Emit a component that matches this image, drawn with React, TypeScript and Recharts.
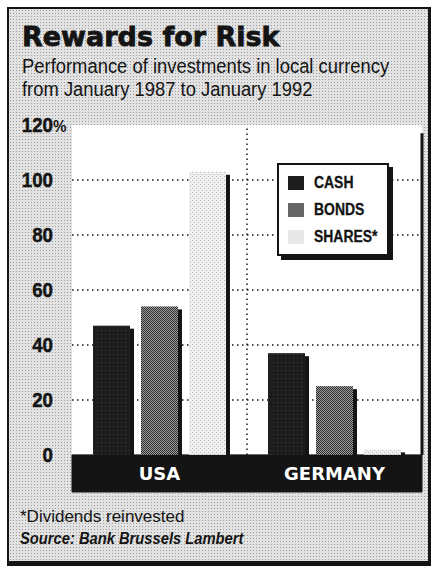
import React from 'react';
import {
  BarChart,
  Bar,
  XAxis,
  YAxis,
  CartesianGrid,
  ReferenceArea,
  ReferenceLine,
} from 'recharts';

// values in percent, Jan 1987 - Jan 1992
const countries = ['USA', 'GERMANY'];
const cashValues = [47, 37];
const bondValues = [54, 25];
const shareValues = [103, 2];
const yTicks = [0, 20, 40, 60, 80, 100, 120];
const gridValues = [20, 40, 60, 80, 100];

const legendItems = [
  { label: 'CASH', swatch: '#1c1c1c' },
  { label: 'BONDS', swatch: '#666666' },
  { label: 'SHARES*', swatch: '#e8e8e8' },
];

const data = countries.map((country, i) => ({
  country,
  cash: cashValues[i],
  bonds: bondValues[i],
  shares: shareValues[i],
}));

const sans = "'Liberation Sans', Arial, Helvetica, sans-serif";
const heavy = "'DejaVu Sans', 'Liberation Sans', Arial, sans-serif";
const ink = '#141414';
const baseBottom = -13.5; // dark base strip under the zero line

// squeeze Arial-metric text to look like the condensed newspaper face
const squeeze = (sx: number): React.CSSProperties => ({
  display: 'inline-block',
  transform: `scaleX(${sx})`,
  transformOrigin: 'left top',
  whiteSpace: 'nowrap',
});

const ShadowBar = (props: any) => {
  const { x, y, width, height, fill } = props;
  if (height <= 0) return null;
  return (
    <g>
      <rect x={x + 4} y={y + 3} width={width} height={height} fill={ink} />
      <rect x={x} y={y} width={width} height={height} fill={fill} />
    </g>
  );
};

const YTick = (props: any) => {
  const { y, payload } = props;
  return (
    <g transform={`translate(53,${y + 7}) scale(0.89,1)`}>
      <text
        x={0}
        y={0}
        textAnchor="end"
        fill={ink}
        stroke={ink}
        strokeWidth={0.5}
        fontFamily={sans}
        fontWeight="bold"
        fontSize={21}
      >
        {payload.value}
      </text>
      {payload.value === 120 && (
        <text x={0} y={0} fill={ink} fontFamily={sans} fontWeight="bold" fontSize={17}>
          %
        </text>
      )}
    </g>
  );
};

export default function App() {
  const pageStyle: React.CSSProperties = {
    position: 'absolute',
    top: 0,
    left: 0,
    width: 432,
    height: 567,
    overflow: 'hidden',
    backgroundColor: '#ffffff',
  };

  const frameStyle: React.CSSProperties = {
    position: 'absolute',
    left: 7,
    top: 7,
    width: 419,
    height: 552,
    borderLeft: `2px solid ${ink}`,
    borderTop: `2px solid ${ink}`,
    borderRight: `3px solid ${ink}`,
    borderBottom: `5px solid ${ink}`,
    backgroundColor: '#e2e2e2',
    backgroundImage: 'radial-gradient(#9c9c9c 0.7px, transparent 0.9px)',
    backgroundSize: '3px 3px',
  };

  const titleStyle: React.CSSProperties = {
    position: 'absolute',
    left: 22,
    top: 20,
    fontFamily: heavy,
    fontWeight: 'bold',
    fontSize: 27,
    lineHeight: '34px',
    color: ink,
    whiteSpace: 'nowrap',
    WebkitTextStroke: `0.8px ${ink}`,
  };

  const subtitleStyle: React.CSSProperties = {
    position: 'absolute',
    left: 22,
    top: 55,
    fontFamily: sans,
    fontSize: 20,
    lineHeight: '23px',
    color: ink,
  };

  const legendBox: React.CSSProperties = {
    position: 'absolute',
    left: 277,
    top: 163,
    width: 108,
    height: 89,
    background: '#fff',
    border: `2px solid ${ink}`,
    boxShadow: `4px 4px 0 ${ink}`,
    fontFamily: sans,
    fontWeight: 'bold',
    fontSize: 16,
    color: ink,
    WebkitTextStroke: `0.3px ${ink}`,
  };

  const countryLabel = (value: string) => ({
    value,
    position: 'center' as const,
    fill: '#ffffff',
    fontFamily: heavy,
    fontWeight: 'bold',
    fontSize: 18,
  });

  return (
    <div style={pageStyle}>
      <div style={frameStyle} />
      <div style={titleStyle}>Rewards for Risk</div>
      <div style={subtitleStyle}>
        <div style={squeeze(0.92)}>Performance of investments in local currency</div>
        <br />
        <div style={squeeze(0.92)}>from January 1987 to January 1992</div>
      </div>

      <div style={{ position: 'absolute', left: 0, top: 0 }}>
        <BarChart
          width={432}
          height={567}
          data={data}
          barSize={37}
          barGap={11}
          margin={{ top: 125, right: 10, left: 0, bottom: 75 }}
        >
          <defs>
            <pattern id="cashPat" width="4" height="4" patternUnits="userSpaceOnUse">
              <rect width="4" height="4" fill="#1c1c1c" />
              <rect x="1" y="2" width="1" height="1" fill="#3a3a3a" />
            </pattern>
            <pattern id="bondPat" width="2" height="2" patternUnits="userSpaceOnUse">
              <rect width="2" height="2" fill="#2e2e2e" />
              <rect x="1" y="0" width="1" height="1" fill="#9c9c9c" />
              <rect x="0" y="1" width="1" height="1" fill="#9c9c9c" />
            </pattern>
            <pattern id="sharePat" width="4" height="4" patternUnits="userSpaceOnUse">
              <rect width="4" height="4" fill="#efefef" />
              <rect x="0" y="0" width="1" height="1" fill="#b4b4b4" />
              <rect x="2" y="2" width="1" height="1" fill="#c4c4c4" />
            </pattern>
          </defs>
          <CartesianGrid
            vertical={false}
            horizontalValues={gridValues}
            stroke={ink}
            strokeWidth={1.5}
            strokeDasharray="1.5 3.5"
            fill="#ffffff"
          />
          <XAxis dataKey="country" hide />
          <YAxis
            domain={[baseBottom, 120]}
            ticks={yTicks}
            axisLine={false}
            tickLine={false}
            width={72}
            tick={<YTick />}
            interval={0}
          />
          {countries.map((c) => (
            <ReferenceArea
              key={c}
              x1={c}
              x2={c}
              y1={baseBottom}
              y2={0}
              fill={ink}
              fillOpacity={1}
              stroke={ink}
              strokeWidth={1}
              label={countryLabel(c)}
            />
          ))}
          <ReferenceLine
            segment={[{ x: 'GERMANY', y: 0 }, { x: 'GERMANY', y: 120 }]}
            position="start"
            stroke={ink}
            strokeWidth={1.5}
            strokeDasharray="1.5 3.5"
          />
          <ReferenceLine
            segment={[{ x: 'GERMANY', y: 0 }, { x: 'GERMANY', y: 117 }]}
            position="end"
            stroke={ink}
            strokeWidth={3}
          />
          <Bar dataKey="cash" fill="url(#cashPat)" shape={<ShadowBar />} isAnimationActive={false} />
          <Bar dataKey="bonds" fill="url(#bondPat)" shape={<ShadowBar />} isAnimationActive={false} />
          <Bar dataKey="shares" fill="url(#sharePat)" shape={<ShadowBar />} isAnimationActive={false} />
        </BarChart>
      </div>

      <div style={legendBox}>
        {legendItems.map((item, i) => (
          <div
            key={item.label}
            style={{ position: 'absolute', left: 9, top: 10 + i * 27, display: 'flex', alignItems: 'center' }}
          >
            <svg width={16} height={14} style={{ marginRight: 10 }}>
              <rect width={16} height={14} fill={item.swatch} />
            </svg>
            <span style={{ ...squeeze(0.87), lineHeight: '16px' }}>{item.label}</span>
          </div>
        ))}
      </div>

      <div
        style={{
          position: 'absolute',
          left: 20,
          top: 506,
          fontFamily: sans,
          fontSize: 17,
          lineHeight: '22px',
          color: ink,
        }}
      >
        <div style={{ whiteSpace: 'nowrap' }}>*Dividends reinvested</div>
        <div style={{ ...squeeze(0.92), fontWeight: 'bold', fontStyle: 'italic', fontSize: 16 }}>
          Source: Bank Brussels Lambert
        </div>
      </div>
    </div>
  );
}
